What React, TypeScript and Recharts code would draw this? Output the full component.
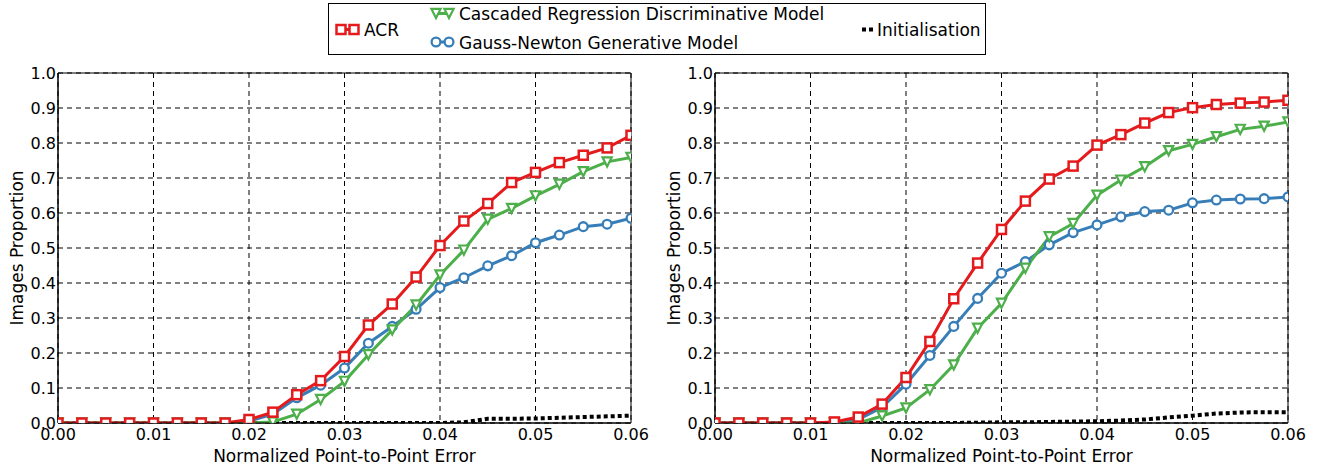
import React from 'react';
import { LineChart, Line, XAxis, YAxis, CartesianGrid, ReferenceArea, Label } from 'recharts';

const FONT = '"DejaVu Sans", sans-serif';
const RED = '#e41a1c';
const GREEN = '#4daf4a';
const BLUE = '#377eb8';

const xValues = [
  0, 0.0025, 0.005, 0.0075, 0.01, 0.0125, 0.015, 0.0175, 0.02, 0.0225, 0.025, 0.0275,
  0.03, 0.0325, 0.035, 0.0375, 0.04, 0.0425, 0.045, 0.0475, 0.05, 0.0525, 0.055, 0.0575, 0.06,
];
const xTicks = [0, 0.01, 0.02, 0.03, 0.04, 0.05, 0.06];
const yTicks = [0, 0.1, 0.2, 0.3, 0.4, 0.5, 0.6, 0.7, 0.8, 0.9, 1.0];

const seriesNames = {
  acr: 'ACR',
  crd: 'Cascaded Regression Discriminative Model',
  gn: 'Gauss-Newton Generative Model',
  init: 'Initialisation',
};

// Left panel
const leftACR = [0, 0, 0, 0, 0, 0, 0, 0, 0.01, 0.031, 0.081, 0.121, 0.19, 0.28, 0.34, 0.417, 0.507, 0.577, 0.627, 0.687, 0.716, 0.744, 0.765, 0.786, 0.822];
const leftCRD = [0, 0, 0, 0, 0, 0, 0, 0, 0, 0.003, 0.025, 0.067, 0.119, 0.195, 0.266, 0.337, 0.423, 0.494, 0.582, 0.613, 0.649, 0.682, 0.718, 0.746, 0.759];
const leftGN = [0, 0, 0, 0, 0, 0, 0, 0, 0.005, 0.025, 0.072, 0.108, 0.157, 0.228, 0.276, 0.325, 0.387, 0.415, 0.449, 0.478, 0.515, 0.537, 0.561, 0.568, 0.585];
const leftInit = [0, 0, 0, 0, 0, 0, 0, 0, 0, 0, 0, 0, 0, 0, 0, 0, 0, 0.002, 0.012, 0.012, 0.013, 0.015, 0.017, 0.019, 0.021];

// Right panel
const rightACR = [0, 0, 0, 0, 0, 0.003, 0.017, 0.054, 0.13, 0.233, 0.355, 0.457, 0.553, 0.634, 0.697, 0.734, 0.794, 0.824, 0.857, 0.887, 0.901, 0.91, 0.914, 0.917, 0.922];
const rightCRD = [0, 0, 0, 0, 0, 0, 0, 0.02, 0.043, 0.095, 0.166, 0.271, 0.342, 0.442, 0.532, 0.57, 0.651, 0.694, 0.732, 0.778, 0.796, 0.818, 0.839, 0.848, 0.86];
const rightGN = [0, 0, 0, 0, 0, 0, 0.01, 0.045, 0.111, 0.193, 0.276, 0.356, 0.428, 0.461, 0.509, 0.544, 0.566, 0.589, 0.604, 0.608, 0.629, 0.637, 0.64, 0.641, 0.646];
const rightInit = [0, 0, 0, 0, 0, 0, 0, 0, 0, 0, 0, 0.001, 0.002, 0.002, 0.003, 0.004, 0.005, 0.007, 0.01, 0.016, 0.021, 0.027, 0.03, 0.031, 0.031];

function buildRows(acr: number[], crd: number[], gn: number[], init: number[]) {
  return xValues.map((x, i) => ({ x, acr: acr[i], crd: crd[i], gn: gn[i], init: init[i] }));
}

const leftRows = buildRows(leftACR, leftCRD, leftGN, leftInit);
const rightRows = buildRows(rightACR, rightCRD, rightGN, rightInit);

const SquareDot = (props: any) => {
  const { cx, cy, index } = props;
  if (cx == null || cy == null) return <g key={`s${index}`} />;
  return <rect key={`s${index}`} x={cx - 4.5} y={cy - 4.5} width={9} height={9} fill="#fff" stroke={RED} strokeWidth={2.5} />;
};
const CircleDot = (props: any) => {
  const { cx, cy, index } = props;
  if (cx == null || cy == null) return <g key={`c${index}`} />;
  return <circle key={`c${index}`} cx={cx} cy={cy} r={4.4} fill="#fff" stroke={BLUE} strokeWidth={2.3} />;
};
const TriDot = (props: any) => {
  const { cx, cy, index } = props;
  if (cx == null || cy == null) return <g key={`t${index}`} />;
  const s = 4.6;
  return (
    <polygon
      key={`t${index}`}
      points={`${cx - s},${cy - s} ${cx + s},${cy - s} ${cx},${cy + s}`}
      fill="#fff"
      stroke={GREEN}
      strokeWidth={2.2}
      strokeLinejoin="miter"
    />
  );
};

const YLabel = (props: any) => {
  const vb = props.viewBox || {};
  const plotLeft = (vb.x || 0) + (vb.width || 0);
  const x = plotLeft - 35.5;
  const y = (vb.y || 0) + (vb.height || 0) / 2;
  return (
    <text x={x} y={y} transform={`rotate(-90, ${x}, ${y})`} textAnchor="middle" fontFamily={FONT} fontSize={17} fill="#000">
      Images Proportion
    </text>
  );
};
const XLabel = (props: any) => {
  const vb = props.viewBox || {};
  const x = (vb.x || 0) + (vb.width || 0) / 2;
  const y = (vb.y || 0) + 38.5;
  return (
    <text x={x} y={y} textAnchor="middle" fontFamily={FONT} fontSize={17} fill="#000">
      Normalized Point-to-Point Error
    </text>
  );
};

function Panel({ rows, left, width, marginRight }: { rows: any[]; left: number; width: number; marginRight: number }) {
  return (
    <div style={{ position: 'absolute', left, top: 0 }}>
      <LineChart width={width} height={465} data={rows} margin={{ top: 73, right: marginRight, bottom: 0, left: 0 }}>
        <CartesianGrid stroke="#000" strokeDasharray="5 4" strokeWidth={1} />
        <XAxis
          type="number"
          dataKey="x"
          domain={[0, 0.06]}
          ticks={xTicks}
          allowDataOverflow
          height={42}
          tickSize={0}
          tickMargin={6}
          tickFormatter={(v: number) => v.toFixed(2)}
          tick={{ fill: '#000', fontSize: 16, fontFamily: FONT }}
          axisLine={{ stroke: '#000' }}
          interval={0}
        >
          <Label content={XLabel} />
        </XAxis>
        <YAxis
          type="number"
          domain={[0, 1]}
          ticks={yTicks}
          allowDataOverflow
          width={58}
          tickSize={0}
          tickMargin={2}
          tickFormatter={(v: number) => v.toFixed(1)}
          tick={{ fill: '#000', fontSize: 16, fontFamily: FONT }}
          axisLine={{ stroke: '#000' }}
          interval={0}
        >
          <Label content={YLabel} />
        </YAxis>
        <Line dataKey="init" name={seriesNames.init} stroke="#000" strokeWidth={4} strokeDasharray="4 3" dot={false} isAnimationActive={false} />
        <Line dataKey="gn" name={seriesNames.gn} stroke={BLUE} strokeWidth={3} dot={CircleDot} isAnimationActive={false} />
        <Line dataKey="crd" name={seriesNames.crd} stroke={GREEN} strokeWidth={3} dot={TriDot} isAnimationActive={false} />
        <Line dataKey="acr" name={seriesNames.acr} stroke={RED} strokeWidth={3} dot={SquareDot} isAnimationActive={false} />
        <ReferenceArea x1={0} x2={0.06} y1={0} y2={1} fill="none" fillOpacity={0} stroke="#000" strokeWidth={1} ifOverflow="visible" />
      </LineChart>
    </div>
  );
}

function LegendBox() {
  return (
    <svg width={1319} height={60} style={{ position: 'absolute', left: 0, top: 0, pointerEvents: 'none' }}>
      <rect x={328.5} y={3.5} width={657} height={51} fill="#fff" stroke="#000" strokeWidth={1} />
      {/* ACR */}
      <line x1={341} y1={29.5} x2={354} y2={29.5} stroke={RED} strokeWidth={3} />
      <rect x={336.5} y={25} width={9} height={9} fill="#fff" stroke={RED} strokeWidth={2.5} />
      <rect x={349.5} y={25} width={9} height={9} fill="#fff" stroke={RED} strokeWidth={2.5} />
      <text x={364} y={35.5} fontFamily={FONT} fontSize={17} fill="#000">{seriesNames.acr}</text>
      {/* Cascaded */}
      <line x1={436} y1={13.5} x2={449} y2={13.5} stroke={GREEN} strokeWidth={3} />
      <polygon points="431.4,8.9 440.6,8.9 436,18.1" fill="#fff" stroke={GREEN} strokeWidth={2.2} />
      <polygon points="444.4,8.9 453.6,8.9 449,18.1" fill="#fff" stroke={GREEN} strokeWidth={2.2} />
      <text x={459} y={20} fontFamily={FONT} fontSize={17} fill="#000">{seriesNames.crd}</text>
      {/* Gauss-Newton */}
      <line x1={436} y1={42} x2={449} y2={42} stroke={BLUE} strokeWidth={3} />
      <circle cx={436} cy={42} r={4.4} fill="#fff" stroke={BLUE} strokeWidth={2.3} />
      <circle cx={449} cy={42} r={4.4} fill="#fff" stroke={BLUE} strokeWidth={2.3} />
      <text x={459} y={48.5} fontFamily={FONT} fontSize={17} fill="#000">{seriesNames.gn}</text>
      {/* Initialisation */}
      <line x1={862} y1={29.5} x2={874} y2={29.5} stroke="#000" strokeWidth={4} strokeDasharray="4 3" />
      <text x={877} y={35.5} fontFamily={FONT} fontSize={17} fill="#000">{seriesNames.init}</text>
    </svg>
  );
}

export default function App() {
  return (
    <div style={{ position: 'absolute', left: 0, top: 0, width: 1319, height: 465, background: '#fff', overflow: 'hidden' }}>
      <Panel rows={leftRows} left={0} width={660} marginRight={29} />
      <Panel rows={rightRows} left={657} width={662} marginRight={31} />
      <LegendBox />
    </div>
  );
}
